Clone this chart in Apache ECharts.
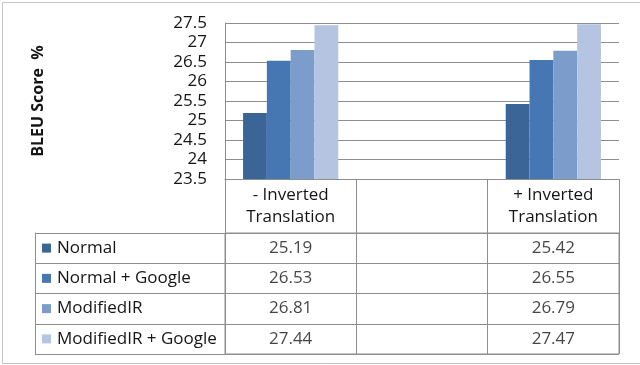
<!DOCTYPE html>
<html>
<head>
<meta charset="utf-8">
<script src="https://cdn.jsdelivr.net/npm/echarts@6/dist/echarts.min.js"></script>
<style>
html,body{margin:0;padding:0;background:#fff;}
#c{width:640px;height:365px;}
</style>
</head>
<body>
<div id="c"></div>
<script>
// ---- data ----
const categories = ['- Inverted\nTranslation', '', '+ Inverted\nTranslation'];
const seriesNames = ['Normal', 'Normal + Google', 'ModifiedIR', 'ModifiedIR + Google'];
const normal = [25.19, null, 25.42];
const normalGoogle = [26.53, null, 26.55];
const modifiedIR = [26.81, null, 26.79];
const modifiedIRGoogle = [27.44, null, 27.47];
const yMin = 23.5, yMax = 27.5, yStep = 0.5;
const yTitle = 'BLEU Score  %';

// ---- style ----
const colors = ['#3c6597', '#4677b3', '#7c9dcb', '#b5c5e1'];
const lineCol = '#8e8e8e';
const textCol = '#151515';
const font = '"Open Sans", Lato, sans-serif';
const fs = 17;

const seriesValues = [normal, normalGoogle, modifiedIR, modifiedIRGoogle];

const chart = echarts.init(document.getElementById('c'), null, {renderer: 'canvas'});

const rich = {};
colors.forEach((c, i) => {
  rich['s' + i] = {backgroundColor: c, width: 9, height: 9};
  rich['t' + i] = {fontSize: fs, fontFamily: font, color: textCol, padding: [0, 0, 0, 6]};
});

const barSeries = seriesNames.map((n, i) => ({
  name: n,
  type: 'bar',
  xAxisIndex: 0, yAxisIndex: 0,
  data: seriesValues[i],
  itemStyle: {color: colors[i]},
  barGap: '0%',
  barCategoryGap: '27.5%'
}));

const tableData = [];
seriesValues.forEach((arr, si) => {
  arr.forEach((v, ci) => {
    if (v != null) tableData.push([ci, si, v]);
  });
});

chart.setOption({
  animation: false,
  textStyle: {fontFamily: font},
  graphic: [{
    type: 'rect', silent: true,
    shape: {x: 2.5, y: 2.5, width: 660, height: 361},
    style: {fill: 'none', stroke: '#c4c4c4', lineWidth: 1}
  }],
  grid: [
    {left: 225, right: 21, top: 23, height: 156},
    {left: 225, right: 21, top: 233, height: 121, show: true, borderColor: lineCol, borderWidth: 1, backgroundColor: 'transparent'}
  ],
  xAxis: [
    {
      type: 'category', gridIndex: 0, data: categories,
      axisLine: {show: true, lineStyle: {color: lineCol}},
      axisTick: {show: true, length: 54, lineStyle: {color: lineCol}},
      axisLabel: {fontSize: fs, lineHeight: 22, color: textCol, margin: 5, fontFamily: font, interval: 0}
    },
    {
      type: 'category', gridIndex: 1, data: categories,
      axisLine: {show: false}, axisTick: {show: false}, axisLabel: {show: false},
      splitLine: {show: true, interval: 0, lineStyle: {color: lineCol}}
    }
  ],
  yAxis: [
    {
      type: 'value', gridIndex: 0, min: yMin, max: yMax, interval: yStep,
      name: yTitle, nameLocation: 'middle', nameRotate: 90, nameGap: 179,
      nameTextStyle: {fontSize: 16, fontWeight: 'bold', color: textCol, fontFamily: font},
      axisLine: {show: true, lineStyle: {color: lineCol}},
      axisTick: {show: false},
      axisLabel: {fontSize: fs, color: textCol, margin: 18, fontFamily: font},
      splitLine: {show: true, lineStyle: {color: lineCol}}
    },
    {
      type: 'category', gridIndex: 1, data: seriesNames, inverse: true,
      axisLine: {show: true, lineStyle: {color: lineCol}},
      axisTick: {show: true, length: 190, lineStyle: {color: lineCol}},
      axisLabel: {
        align: 'left', margin: 183,
        formatter: (v, i) => '{s' + i + '|}{t' + i + '|' + v + '}',
        rich: rich
      },
      splitLine: {show: true, interval: 0, lineStyle: {color: lineCol}}
    },
    {
      type: 'category', gridIndex: 1, data: seriesNames, inverse: true,
      position: 'left', offset: 190,
      axisLine: {show: true, lineStyle: {color: lineCol}},
      axisTick: {show: false}, axisLabel: {show: false}
    }
  ],
  series: barSeries.concat([{
    type: 'scatter',
    xAxisIndex: 1, yAxisIndex: 1,
    data: tableData,
    symbolSize: 1,
    itemStyle: {color: 'rgba(0,0,0,0)'},
    label: {
      show: true, position: 'inside',
      formatter: p => p.value[2].toFixed(2),
      fontSize: fs, color: textCol, fontFamily: font
    }
  }])
});
</script>
</body>
</html>
